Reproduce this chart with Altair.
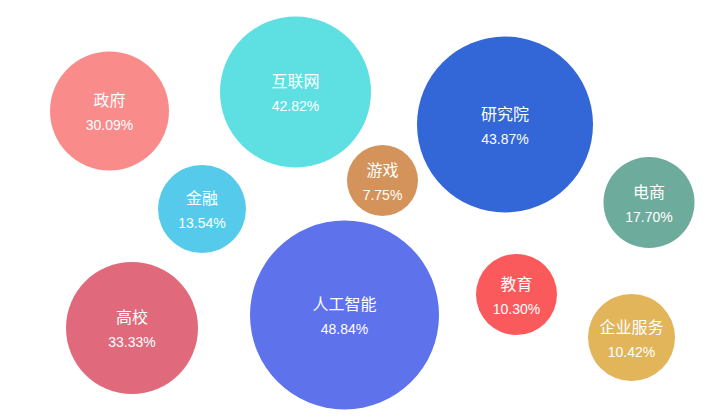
import altair as alt
import pandas as pd

# bubble data
names = ["政府", "互联网", "游戏", "研究院", "电商", "金融", "高校", "人工智能", "教育", "企业服务"]
shares = [30.09, 42.82, 7.75, 43.87, 17.70, 13.54, 33.33, 48.84, 10.30, 10.42]
bubble_x = [109.5, 295.5, 382.5, 505, 649, 202, 132, 344.5, 516.5, 631.5]
bubble_y = [111, 92, 180.5, 124.5, 202.5, 209, 328, 315, 294.5, 337.5]
bubble_d = [119, 151, 71, 176, 91, 88, 132, 189, 81, 87]
colors = ["#f98b8b", "#5ee0e3", "#d3935a", "#3366d6", "#6dab9c",
          "#55caeb", "#e06a7b", "#5e72eb", "#fa5a5c", "#e2b55a"]

df = pd.DataFrame({
    "name": names, "share": shares,
    "x": bubble_x, "y": bubble_y, "d": bubble_d, "color": colors,
})

FONT = "Liberation Sans, Noto Sans CJK SC"

base = alt.Chart(df).encode(
    x=alt.X("x:Q", scale=alt.Scale(domain=[8, 715], nice=False, zero=False), axis=None),
    y=alt.Y("y:Q", scale=alt.Scale(domain=[8, 411], nice=False, zero=False, reverse=True), axis=None),
)

bubbles = base.mark_circle(opacity=1).encode(
    size=alt.Size("d:Q", scale=alt.Scale(type="pow", exponent=2, domain=[0, 200], range=[0, 40000]), legend=None),
    color=alt.Color("color:N", scale=None),
)

name_text = base.mark_text(color="white", font=FONT, fontSize=16, dy=-10).encode(
    text="name:N"
)

value_text = base.transform_calculate(
    label="format(datum.share, '.2f') + '%'"
).mark_text(color="white", font=FONT, fontSize=14, dy=15).encode(
    text="label:N"
)

chart = alt.layer(bubbles, name_text, value_text).properties(
    width=707, height=403, padding=0, autosize=alt.AutoSizeParams(type="none")
).configure_view(strokeWidth=0)

chart.save("out.html", embed_options={"renderer": "svg", "actions": False})
